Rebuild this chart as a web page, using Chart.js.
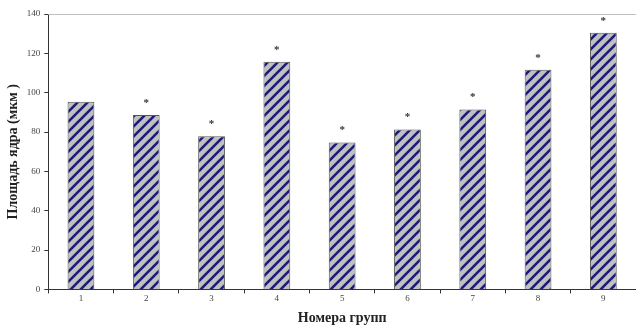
<!DOCTYPE html>
<html>
<head>
<meta charset="utf-8">
<script src="https://cdn.jsdelivr.net/npm/chart.js@4/dist/chart.umd.min.js"></script>
<style>
  html, body { margin: 0; padding: 0; background: #fff; }
  #wrap { width: 636px; height: 327px; }
</style>
</head>
<body>
<div id="wrap"><canvas id="myChart"></canvas></div>
<script>
const groups = ['1', '2', '3', '4', '5', '6', '7', '8', '9'];
const nucleusArea = [95.4, 88.6, 77.9, 115.7, 74.7, 81.3, 91.5, 111.7, 130.5];
const significant = [false, true, true, true, true, true, true, true, true];

// grey tile with navy diagonal stripes
function stripes() {
  const c = document.createElement('canvas');
  c.width = 10;
  c.height = 10;
  const g = c.getContext('2d');
  g.fillStyle = '#c0c0c0';
  g.fillRect(0, 0, 10, 10);
  g.strokeStyle = '#1c1c78';
  g.lineWidth = 2.6;
  g.beginPath();
  g.moveTo(-5, 15); g.lineTo(15, -5);
  g.moveTo(-5, 5); g.lineTo(5, -5);
  g.moveTo(5, 15); g.lineTo(15, 5);
  g.stroke();
  return g.createPattern(c, 'repeat');
}

// asterisks over the bars plus the grey frame line on top
const marks = {
  id: 'marks',
  afterDatasetsDraw(chart) {
    const ctx = chart.ctx;
    const area = chart.chartArea;
    ctx.save();
    ctx.strokeStyle = '#c0c0c0';
    ctx.lineWidth = 1;
    ctx.beginPath();
    ctx.moveTo(area.left, area.top + 0.5);
    ctx.lineTo(chart.width, area.top + 0.5);
    ctx.stroke();
    ctx.fillStyle = '#333';
    ctx.font = 'bold 11px "Liberation Serif"';
    ctx.textAlign = 'center';
    ctx.textBaseline = 'middle';
    chart.getDatasetMeta(0).data.forEach((bar, i) => {
      if (significant[i]) ctx.fillText('*', bar.x, bar.y - 12);
    });
    ctx.restore();
  }
};

const ctx = document.getElementById('myChart');
new Chart(ctx, {
  type: 'bar',
  data: {
    labels: groups,
    datasets: [{
      data: nucleusArea,
      backgroundColor: stripes(),
      borderColor: '#555',
      borderWidth: 1,
      categoryPercentage: 1,
      barPercentage: 0.41
    }]
  },
  options: {
    responsive: true,
    maintainAspectRatio: false,
    animation: false,
    layout: { padding: { top: 14, right: 0, left: 5, bottom: 0 } },
    plugins: { legend: { display: false }, tooltip: { enabled: false } },
    scales: {
      x: {
        grid: { offset: true, drawOnChartArea: false, tickLength: 4, color: '#333' },
        border: { color: '#333' },
        ticks: { color: '#444', font: { family: 'Liberation Serif', size: 9 }, padding: 0 },
        title: {
          display: true,
          text: 'Номера групп',
          color: '#222',
          font: { family: 'Liberation Serif', size: 14, weight: 'bold' },
          padding: { top: 6, bottom: 0 }
        }
      },
      y: {
        min: 0,
        max: 140,
        ticks: { stepSize: 20, color: '#444', font: { family: 'Liberation Serif', size: 9 }, padding: 4 },
        grid: { drawOnChartArea: false, tickLength: 4, color: '#333' },
        border: { color: '#333' },
        title: {
          display: true,
          text: 'Площадь ядра (мкм )',
          color: '#222',
          font: { family: 'Liberation Serif', size: 14, weight: 'bold' },
          padding: { top: 0, bottom: 1 }
        }
      }
    }
  },
  plugins: [marks]
});
</script>
</body>
</html>
